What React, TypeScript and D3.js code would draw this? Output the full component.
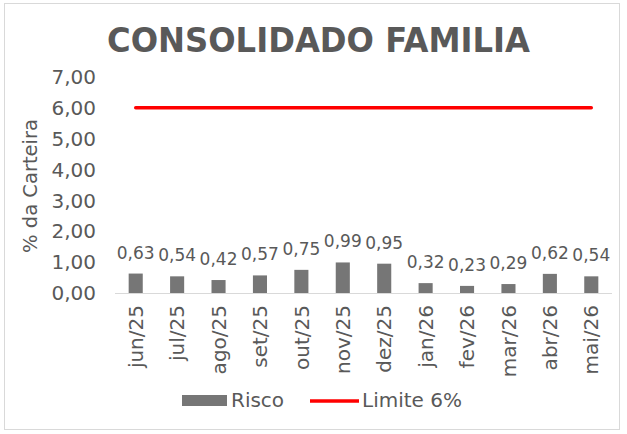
import * as d3 from 'd3';

const W = 627;
const H = 434;
const FONT = '"DejaVu Sans", sans-serif';
const GRAY = '#595959';

const months = ['jun/25', 'jul/25', 'ago/25', 'set/25', 'out/25', 'nov/25', 'dez/25', 'jan/26', 'fev/26', 'mar/26', 'abr/26', 'mai/26'];
const risco = [0.63, 0.54, 0.42, 0.57, 0.75, 0.99, 0.95, 0.32, 0.23, 0.29, 0.62, 0.54];
const limite = [6, 6, 6, 6, 6, 6, 6, 6, 6, 6, 6, 6];
const yTicks = [0, 1, 2, 3, 4, 5, 6, 7];

const fmt = (v: number) => v.toFixed(2).replace('.', ',');

export default function App() {
  const x = d3.scaleBand<string>().domain(months).range([115, 612]).paddingInner(0.66).paddingOuter(0.33);
  const y = d3.scaleLinear().domain([0, 7]).range([293, 77]);
  const cx = (m: string) => (x(m) ?? 0) + x.bandwidth() / 2;

  const line = d3
    .line<number>()
    .x((_, i) => cx(months[i]))
    .y((d) => y(d));

  return (
    <svg width={W} height={H} style={{ position: 'absolute', left: 0, top: 0, background: '#fff' }}>
      <rect x={4.5} y={3.5} width={615} height={426} fill="#fff" stroke="#d9d9d9" />
      <text x={318.5} y={52} textAnchor="middle" fontFamily={FONT} fontWeight={700} fontSize={33} fill={GRAY} textLength={423} lengthAdjust="spacingAndGlyphs">
        CONSOLIDADO FAMILIA
      </text>

      {/* y axis */}
      {yTicks.map((t) => (
        <text key={t} x={96} y={y(t)} dy="0.36em" textAnchor="end" fontFamily={FONT} fontSize={20} fill={GRAY}>
          {fmt(t)}
        </text>
      ))}
      <text transform={`translate(37,186) rotate(-90)`} textAnchor="middle" fontFamily={FONT} fontSize={19.5} fill={GRAY}>
        % da Carteira
      </text>

      {/* bars */}
      {risco.map((v, i) => (
        <rect key={months[i]} x={x(months[i])} y={y(v)} width={x.bandwidth()} height={y(0) - y(v)} fill="#767676" />
      ))}
      <line x1={115} x2={612} y1={y(0) + 0.5} y2={y(0) + 0.5} stroke="#d9d9d9" />

      {risco.map((v, i) => (
        <text key={'l' + i} x={cx(months[i])} y={y(v) - 15} textAnchor="middle" fontFamily={FONT} fontSize={17} fill={GRAY}>
          {fmt(v)}
        </text>
      ))}

      <path d={line(limite) ?? ''} fill="none" stroke="#ff0000" strokeWidth={3.5} strokeLinecap="round" />

      {/* x labels */}
      {months.map((m) => (
        <text key={m} transform={`translate(${cx(m)},305) rotate(-90)`} dy="0.36em" textAnchor="end" fontFamily={FONT} fontSize={20} fill={GRAY}>
          {m}
        </text>
      ))}

      {/* legend */}
      <rect x={182} y={395} width={45} height={11} fill="#767676" />
      <text x={231} y={400} dy="0.36em" fontFamily={FONT} fontSize={20} fill={GRAY}>
        Risco
      </text>
      <line x1={310} x2={359} y1={401} y2={401} stroke="#ff0000" strokeWidth={3.5} />
      <text x={362} y={400} dy="0.36em" fontFamily={FONT} fontSize={20} fill={GRAY}>
        Limite 6%
      </text>
    </svg>
  );
}
